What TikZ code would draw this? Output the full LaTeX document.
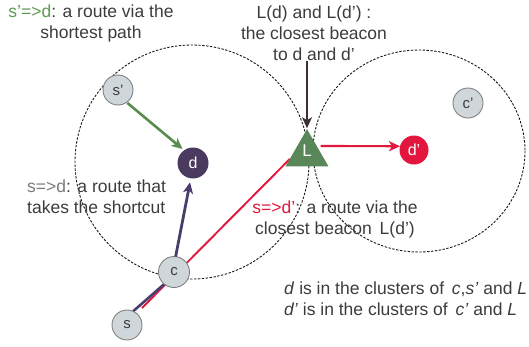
\documentclass[tikz,border=0pt]{standalone}
\usepackage{fontspec}
\setmainfont{Liberation Sans}
\usetikzlibrary{shapes.geometric,calc,arrows.meta}
\pgfdeclarelayer{background}
\pgfsetlayers{background,main}
\definecolor{sgreen}{HTML}{5E9A54}
\definecolor{agreen}{HTML}{5B8C4F}
\definecolor{apurple}{HTML}{4A3D6B}
\definecolor{dpurple}{HTML}{4B3A5F}
\definecolor{sred}{HTML}{E3173E}
\definecolor{lgreen}{HTML}{5A875A}
\definecolor{ngray}{HTML}{CFD7DA}
\definecolor{bgray}{HTML}{808080}
\definecolor{tdark}{HTML}{3C3C3C}
\definecolor{tgray}{HTML}{7A7A7A}
\definecolor{adark}{HTML}{3A3030}
\begin{document}
\begin{tikzpicture}[x=1pt,y=-1pt,
  dot/.style={circle, minimum size=30pt, inner sep=0pt, outer sep=0pt,
    font=\fontsize{15}{15}\selectfont},
  graynode/.style={dot, fill=ngray, draw=bgray, line width=0.9pt, text=tdark},
  dnode/.style={dot, fill=dpurple, text=white, minimum size=31pt, font=\fontsize{16}{16}\selectfont},
  rednode/.style={dot, fill=sred, text=white, minimum size=29pt, font=\fontsize{16}{16}\selectfont},
  beacon/.style={regular polygon, regular polygon sides=3, minimum size=49.6pt,
    inner sep=0pt, outer sep=0pt, fill=lgreen},
  cluster/.style={draw=black!90, dash pattern=on 2.4pt off 1.5pt, line width=0.9pt},
  txt/.style={text=tdark, inner sep=0pt, font=\fontsize{17.5}{21}\selectfont},
  tip/.style={-{Stealth[length=11pt,width=10pt,inset=3pt]}},
]
\useasboundingbox (0,0) rectangle (529,346);

% nodes
\node[graynode] (sp) at (118,90) {s’};
\node[dnode] (d) at (193,163) {d};
\node[graynode] (cp) at (468,103) {c’};
\node[rednode] (dp) at (414,150) {d’};
\node[graynode, minimum size=31pt] (c) at (174,272) {c};
\node[graynode] (s) at (127,325) {s};
\node[beacon] (L) at (307,154) {};
\node[text=white, font=\fontsize{17}{17}\selectfont, inner sep=0pt] (Lt) at (307,151) {L};

% texts
\node[txt, align=center] (t1) at (91,23) {\textcolor{sgreen}{s'=>d}: a route via the\\shortest path};
\node[txt, align=center] (t2) at (314,33.5) {L(d) and L(d') :\\the closest beacon\\to d and d'};
\node[txt, align=left, anchor=west] (t3) at (27,196.5) {\textcolor{tgray}{s=>d}: a route that\\takes the shortcut};
\node[txt, align=center] (t4) at (335,219) {\textcolor{sred}{s=>d'}: a route via the\\closest beacon\, L(d')};
\node[txt, align=left, anchor=west] (t5) at (284,299) {\textit{d} is in the clusters of\, \textit{c},\textit{s'} and \textit{L}\\\textit{d'} is in the clusters of\, \textit{c'} and \textit{L}};

\begin{pgfonlayer}{background}
  \draw[cluster] (192,162) circle [radius=117];
  \draw[cluster] (419,151) ellipse [x radius=106, y radius=101];
  % red route s -> L
  \draw[sred, line width=1.9pt] ($(s)+(15,-17)$) -- ($(L.corner 2)!0.2!(L.corner 1)$);
  % purple route s -> c
  \draw[apurple, line width=2.6pt] (s.66) -- (c.231);
\end{pgfonlayer}

% arrows
\draw[tip, agreen, line width=2.6pt, shorten >=2pt, shorten <=1pt] (sp.-55) -- (d.125);
\draw[tip, apurple, line width=2.8pt, shorten >=4pt] (c.84) -- (d.262);
\draw[tip, sred, line width=2.1pt, shorten <=4pt] ($(L.corner 1)!0.45!(L.corner 3)$) -- (dp.165);
\draw[tip, adark, line width=2.8pt, shorten >=1pt] (L.corner 1 |- t2.south) -- (L.corner 1);
\end{tikzpicture}
\end{document}
